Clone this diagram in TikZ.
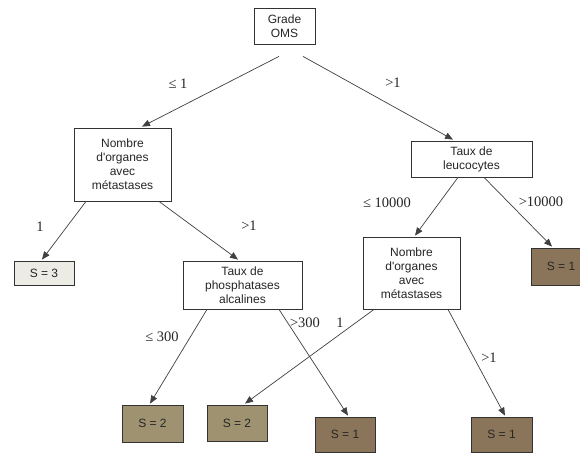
\documentclass[tikz,border=0pt]{standalone}
\usepackage{fontspec}
\setmainfont{Liberation Serif}
\newfontfamily\nodefont{Liberation Sans}
\usetikzlibrary{arrows.meta,calc}
\definecolor{sonecol}{RGB}{139,117,90}
\definecolor{stwocol}{RGB}{158,146,112}
\definecolor{sthreecol}{RGB}{236,236,228}
\begin{document}
\begin{tikzpicture}[x=1pt,y=-1pt,
  box/.style={draw=black!80, line width=0.8pt, fill=white, font=\nodefont\fontsize{12}{14}\selectfont, align=center, inner sep=0pt, text=black!85},
  leaf/.style={box, minimum width=60pt, minimum height=36pt},
  conn/.style={draw=black!75, line width=0.7pt, -{Triangle[length=8pt,width=6.5pt]}},
  lab/.style={font=\fontsize{14.5}{16}\selectfont, text=black!85, inner sep=0pt}]
\useasboundingbox (0,0) rectangle (580,453);
\fill[white] (0,0) rectangle (580,453);

\node[box, minimum width=61pt, minimum height=36pt] (grade) at (284.5,26) {Grade\\OMS};
\node[box, minimum width=97pt, minimum height=73pt] (nom1) at (122.5,164.5) {Nombre\\d'organes\\avec\\métastases};
\node[box, minimum width=121pt, minimum height=36pt] (leuco) at (471.5,159) {Taux de\\leucocytes};
\node[box, minimum width=60pt, minimum height=24pt, fill=sthreecol] (s3) at (44,273) {S = 3};
\node[box, minimum width=119pt, minimum height=48pt] (phos) at (242.5,285) {Taux de\\phosphatases\\alcalines};
\node[box, minimum width=97pt, minimum height=72pt] (nom2) at (411.5,273) {Nombre\\d'organes\\avec\\métastases};
\node[leaf, minimum height=37pt, fill=sonecol] (s1r) at (561,266.5) {S = 1};
\node[leaf, minimum width=61pt, minimum height=37pt, fill=stwocol] (s2a) at (152.5,423.5) {S = 2};
\node[leaf, fill=stwocol] (s2b) at (237,423) {S = 2};
\node[leaf, minimum height=35pt, fill=sonecol] (s1m) at (345,434.5) {S = 1};
\node[leaf, minimum width=61pt, minimum height=35pt, fill=sonecol] (s1b) at (501.5,434.5) {S = 1};

\draw[conn] ($(grade.south)+(-5.5,12)$) -- ($(nom1.north)+(19.5,-1)$);
\draw[conn] ($(grade.south)+(18.5,12)$) -- ($(leuco.north)+(-18.5,-1)$);
\draw[conn] ($(nom1.south)+(-36.5,0)$) -- ($(s3.north)+(-2,-1)$);
\draw[conn] ($(nom1.south)+(36.5,0)$) -- ($(phos.north)+(-4.5,-1)$);
\draw[conn] ($(leuco.south)+(-13.5,0)$) -- ($(nom2.north)+(3.5,-1)$);
\draw[conn] ($(leuco.south)+(12.5,0)$) -- ($(s1r.north)+(-9,-1)$);
\draw[conn] ($(phos.south)+(-35.5,0)$) -- ($(s2a.north)+(-2.5,-1)$);
\draw[conn] ($(phos.south)+(36.5,0)$) -- ($(s1m.north)+(3,-1)$);
\draw[conn] ($(nom2.south)+(-37.5,0)$) -- ($(s2b.north)+(8,-1)$);
\draw[conn] ($(nom2.south)+(36.5,0)$) -- ($(s1b.north)+(3.5,-1)$);

\node[lab] (l1) at (178,84) {≤ 1};
\node[lab] (l2) at (393,83) {>1};
\node[lab] (l3) at (40,227) {1};
\node[lab] (l4) at (249,226) {>1};
\node[lab] (l5) at (387,203) {≤ 10000};
\node[lab] (l6) at (541,202) {>10000};
\node[lab] (l7) at (162,337) {≤ 300};
\node[lab] (l8) at (305,323) {>300};
\node[lab] (l9) at (340,323) {1};
\node[lab] (l10) at (489,358) {>1};
\end{tikzpicture}
\end{document}
